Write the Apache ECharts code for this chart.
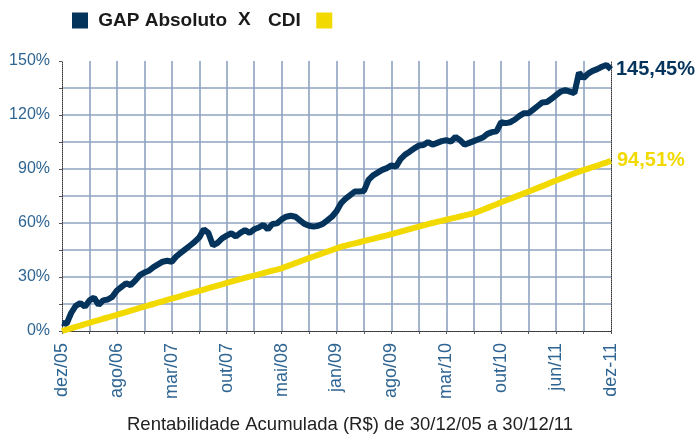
<!DOCTYPE html>
<html>
<head>
<meta charset="utf-8">
<script src="https://cdn.jsdelivr.net/npm/echarts@6/dist/echarts.min.js"></script>
<style>
  html, body { margin: 0; padding: 0; background: #fff; }
  #chart { width: 700px; height: 436px; }
</style>
</head>
<body>
<div id="chart"></div>
<script>
// rótulos do eixo x (um a cada 12 pontos)
var tickLabels = ['dez/05', 'ago/06', 'mar/07', 'out/07', 'mai/08', 'jan/09', 'ago/09', 'mar/10', 'out/10', 'jun/11', 'dez-11'];

// rentabilidade acumulada (%) - GAP Absoluto
var gapValues = [
  4.5, 4.0, 10, 14, 15.5, 13.5, 17, 18.5, 14.5, 17, 17.5, 19, 22.5, 24.5, 26.5, 25.5, 28, 31, 32.5, 33.5,
  35.5, 37, 38.5, 39, 38.5, 41.5, 43.5, 45.5, 47.5, 49.5, 52, 56.5, 54.5, 47.5, 49, 51.5, 53, 54.3, 52.5, 54.5,
  56, 54.5, 56.5, 57.5, 59, 56.5, 59.5, 59.8, 62, 63.5, 64, 63.5, 61.5, 59.5, 58.5, 58, 58.5, 59.5, 61.5, 63.5,
  66.5, 71, 73.5, 75.5, 77.5, 77.5, 77.8, 84, 86.5, 88, 89.5, 90.5, 92, 91.3, 95.5, 98, 99.6, 101.5, 103, 103.3,
  105, 103.5, 104.5, 105.5, 106, 105.2, 107.9, 106, 103.5, 104.5, 105.5, 106.5, 107.5, 109.5, 110.5, 111, 116, 115.5, 116, 117.5,
  119.5, 121, 121, 123, 125, 127, 127.2, 129, 131, 133, 133.8, 133, 132.2, 143.5, 140.5, 143, 144.5, 145.5, 146.8, 147.8,
  145.45
];

// rentabilidade acumulada (%) - CDI
var cdiValues = [
  0, 0.8, 1.5, 2.3, 3.0, 3.8, 4.5, 5.3, 6.0, 6.8, 7.5, 8.3, 9.0, 9.8, 10.5, 11.3, 12.0, 12.8, 13.5, 14.3,
  15.0, 15.8, 16.5, 17.3, 18.0, 18.7, 19.4, 20.2, 20.9, 21.6, 22.3, 23.0, 23.8, 24.5, 25.2, 25.9, 26.7, 27.4, 28.1, 28.8,
  29.5, 30.2, 30.8, 31.5, 32.1, 32.8, 33.5, 34.1, 34.8, 35.8, 36.7, 37.7, 38.6, 39.6, 40.5, 41.4, 42.3, 43.2, 44.1, 45.0,
  45.9, 46.8, 47.4, 48.1, 48.7, 49.3, 50.0, 50.6, 51.2, 51.9, 52.5, 53.1, 53.8, 54.5, 55.2, 55.9, 56.6, 57.3, 58.0, 58.7,
  59.4, 60.0, 60.6, 61.2, 61.8, 62.4, 63.0, 63.6, 64.2, 64.8, 65.4, 66.4, 67.4, 68.4, 69.4, 70.4, 71.5, 72.5, 73.5, 74.5,
  75.5, 76.5, 77.5, 78.5, 79.5, 80.5, 81.5, 82.6, 83.6, 84.6, 85.6, 86.6, 87.6, 88.5, 89.4, 90.2, 91.1, 91.9, 92.8, 93.6,
  94.51
];

var categories = gapValues.map(function (v, i) { return String(i); });

var NAVY = '#04335c';
var YELLOW = '#f2d900';
var BLUE_TXT = '#2f6592';
var GRID = '#8fa3c0';
var FONT = '"Liberation Sans", Arial, sans-serif';

var pct = function (v) { return v.toFixed(2).replace('.', ',') + '%'; };

var myChart = echarts.init(document.getElementById('chart'), null, { renderer: 'canvas' });

var option = {
  animation: false,
  textStyle: { fontFamily: FONT },
  grid: { left: 62, right: 89, top: 61, bottom: 105, containLabel: false },
  legend: [
    {
      data: ['GAP Absoluto'],
      left: 67, top: 6,
      icon: 'rect', itemWidth: 16, itemHeight: 16,
      formatter: function (n) { return ' ' + n; },
      textStyle: { fontFamily: FONT, fontWeight: 'bold', fontSize: 19, color: '#1a1a1a' }
    },
    {
      data: ['CDI'],
      left: 263, top: 6, align: 'right',
      icon: 'rect', itemWidth: 16, itemHeight: 16,
      formatter: function (n) { return n + '  '; },
      textStyle: { fontFamily: FONT, fontWeight: 'bold', fontSize: 19, color: '#1a1a1a' }
    }
  ],
  graphic: [
    {
      type: 'text', x: 238, y: 20,
      style: { text: 'X', font: 'bold 19px ' + FONT, fill: '#1a1a1a', verticalAlign: 'middle' }
    },
    {
      type: 'text', left: 'center', top: 415,
      style: { text: 'Rentabilidade Acumulada (R$) de 30/12/05 a 30/12/11', font: '18.5px ' + FONT, fill: '#222' }
    }
  ],
  xAxis: [
    {
      type: 'category', data: categories, boundaryGap: false,
      axisLine: { lineStyle: { color: '#333', type: 'dotted', width: 1 } },
      axisTick: { show: true, interval: 5, length: 3, lineStyle: { color: '#555' } },
      axisLabel: {
        interval: 11, rotate: 90, margin: 12,
        color: BLUE_TXT, fontSize: 18, fontFamily: FONT,
        formatter: function (v, i) { return i % 12 === 0 ? tickLabels[i / 12] : ''; }
      },
      splitLine: {
        show: true,
        interval: function (i) { return i % 6 === 0 && i !== 0 && i !== 120; },
        lineStyle: { color: GRID, width: 1.6 }
      }
    },
    {
      type: 'category', data: categories, boundaryGap: false, position: 'top',
      axisLine: { lineStyle: { color: '#333', type: 'dotted', width: 1 } },
      axisTick: { show: false }, axisLabel: { show: false }, splitLine: { show: false }
    }
  ],
  yAxis: [
    {
      type: 'value', min: 0, max: 150, interval: 15,
      axisLine: { show: true, lineStyle: { color: '#333', type: 'dotted', width: 1 } },
      axisTick: { show: true, length: 3, lineStyle: { color: '#555' } },
      axisLabel: {
        color: BLUE_TXT, fontSize: 16, fontFamily: FONT, margin: 12,
        formatter: function (v) { return v % 30 === 0 ? v + '%' : ''; }
      },
      splitLine: { show: true, showMinLine: false, showMaxLine: false, lineStyle: { color: GRID, width: 1.6 } }
    },
    {
      type: 'value', min: 0, max: 150, interval: 15, position: 'right',
      axisLine: { show: true, lineStyle: { color: '#333', type: 'dotted', width: 1 } },
      axisTick: { show: false }, axisLabel: { show: false }, splitLine: { show: false }
    }
  ],
  series: [
    {
      name: 'CDI', type: 'line', data: cdiValues, symbol: 'none',
      lineStyle: { color: YELLOW, width: 6 }, itemStyle: { color: YELLOW },
      endLabel: {
        show: true, distance: 6,
        formatter: function (p) { return pct(p.value); },
        color: YELLOW, fontWeight: 'bold', fontSize: 20, fontFamily: FONT
      }
    },
    {
      name: 'GAP Absoluto', type: 'line', data: gapValues, symbol: 'none',
      lineStyle: { color: NAVY, width: 6 }, itemStyle: { color: NAVY },
      endLabel: {
        show: true, distance: 5,
        formatter: function (p) { return pct(p.value); },
        color: NAVY, fontWeight: 'bold', fontSize: 20, fontFamily: FONT
      }
    }
  ]
};

myChart.setOption(option);
</script>
</body>
</html>
